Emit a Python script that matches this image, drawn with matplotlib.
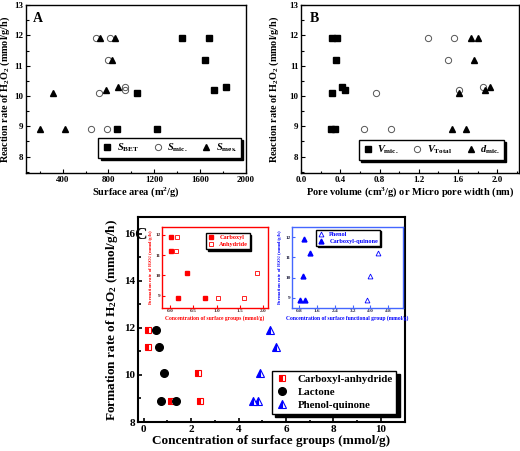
import matplotlib
matplotlib.use('Agg')
import matplotlib.pyplot as plt
from matplotlib.ticker import MultipleLocator

plt.rcParams['font.family'] = ['Liberation Serif', 'DejaVu Serif']
plt.rcParams['font.weight'] = 'bold'
plt.rcParams['axes.labelweight'] = 'bold'
plt.rcParams['mathtext.fontset'] = 'custom'
plt.rcParams['mathtext.rm'] = 'Liberation Serif:bold'
plt.rcParams['mathtext.it'] = 'Liberation Serif:bold:italic'
plt.rcParams['mathtext.bf'] = 'Liberation Serif:bold'
plt.rcParams['xtick.direction'] = 'in'
plt.rcParams['ytick.direction'] = 'in'

# panel A : surface areas (m2/g) vs reaction rate
s_bet_x = [870, 1220, 1045, 1720, 1830, 1645, 1440, 1680]
s_bet_y = [8.9, 8.9, 10.1, 10.2, 10.3, 11.2, 11.9, 11.9]
s_mic_x = [645, 790, 715, 945, 945, 795, 695, 810]
s_mic_y = [8.9, 8.9, 10.1, 10.2, 10.3, 11.2, 11.9, 11.9]
s_mes_x = [205, 420, 315, 775, 885, 835, 730, 855]
s_mes_y = [8.9, 8.9, 10.1, 10.2, 10.3, 11.2, 11.9, 11.9]

# panel B : pore volume / pore width vs reaction rate
v_mic_x = [0.30, 0.35, 0.315, 0.444, 0.417, 0.36, 0.315, 0.366]
v_mic_y = [8.9, 8.9, 10.1, 10.2, 10.3, 11.2, 11.9, 11.9]
v_tot_x = [0.637, 0.915, 0.763, 1.614, 1.858, 1.50, 1.29, 1.556]
v_tot_y = [8.9, 8.9, 10.1, 10.2, 10.3, 11.2, 11.9, 11.9]
d_mic_x = [1.536, 1.68, 1.61, 1.878, 1.925, 1.766, 1.73, 1.807]
d_mic_y = [8.9, 8.9, 10.1, 10.2, 10.3, 11.2, 11.9, 11.9]

# panel C : surface groups vs formation rate
carb_anh_x = [0.17, 0.17, 2.29, 1.17, 2.39]
carb_anh_y = [11.9, 11.2, 10.1, 8.9, 8.9]
lactone_x = [0.53, 0.65, 0.86, 0.72, 1.34]
lactone_y = [11.9, 11.2, 10.1, 8.9, 8.9]
phen_quin_x = [5.32, 5.57, 4.89, 4.61, 4.82]
phen_quin_y = [11.9, 11.2, 10.1, 8.9, 8.9]

# insets
carboxyl_x = [0.01, 0.01, 0.36, 0.16, 0.74]
carboxyl_y = [11.9, 11.2, 10.1, 8.9, 8.9]
anhydride_x = [0.14, 0.13, 1.88, 1.03, 1.60]
anhydride_y = [11.9, 11.2, 10.1, 8.9, 8.9]
phenol_x = [4.34, 4.34, 3.97, 3.85]
phenol_y = [11.9, 11.2, 10.1, 8.9]
carb_quin_x = [1.02, 1.29, 0.96, 0.84, 1.07]
carb_quin_y = [11.9, 11.2, 10.1, 8.9, 8.9]

rate_label = 'Reaction rate of H$_2$O$_2$ (mmol/g/h)'
form_label = 'Formation rate of H$_2$O$_2$ (mmol/g/h)'
shadow = {'ox': 1.6, 'oy': -1.6, 'color': 'black', 'alpha': 1}


def style_axes(ax, lw=1.0, size=6.5, color='black', tcolor='black'):
    for s in ax.spines.values():
        s.set_linewidth(lw)
        s.set_color(color)
    ax.tick_params(which='major', length=3, width=lw * 0.8, labelsize=size, pad=2,
                   color=color, labelcolor=tcolor)
    ax.tick_params(which='minor', length=1.8, width=lw * 0.8, color=color)


fig = plt.figure(figsize=(5.2, 4.51), dpi=100)

# ---- A
axA = fig.add_axes([0.05, 0.616, 0.423, 0.3725])
axA.plot(s_bet_x, s_bet_y, 's', color='black', ms=3.8, label=r'$\mathit{S}_{\mathrm{BET}}$')
axA.plot(s_mic_x, s_mic_y, 'o', mfc='none', mec='#555555', mew=0.7, ms=4.5,
         label=r'$\mathit{S}_{\mathrm{mic.}}$')
axA.plot(s_mes_x, s_mes_y, '^', color='black', ms=4.5, label=r'$\mathit{S}_{\mathrm{mes.}}$')
axA.set_xlim(80, 2000)
axA.set_ylim(7.45, 13)
axA.xaxis.set_major_locator(MultipleLocator(400))
axA.xaxis.set_minor_locator(MultipleLocator(200))
axA.yaxis.set_major_locator(MultipleLocator(1))
axA.yaxis.set_minor_locator(MultipleLocator(0.5))
style_axes(axA)
axA.set_xlabel('Surface area (m$^2$/g)', fontsize=7.5, labelpad=1)
axA.set_ylabel(rate_label, fontsize=7.3)
axA.yaxis.set_label_coords(-0.062, 0.5)
axA.text(0.03, 0.96, 'A', transform=axA.transAxes, fontsize=10, fontweight='bold', va='top')
axA.legend(ncol=3, loc='lower right', bbox_to_anchor=(1.0, 0.06), fontsize=7.5,
           handlelength=1, handletextpad=0.4, columnspacing=1.3, borderpad=0.35,
           fancybox=False, edgecolor='black', framealpha=1, shadow=shadow)

# ---- B
axB = fig.add_axes([0.579, 0.616, 0.419, 0.3725])
axB.plot(v_mic_x, v_mic_y, 's', color='black', ms=3.8, label=r'$\mathit{V}_{\mathrm{mic.}}$')
axB.plot(v_tot_x, v_tot_y, 'o', mfc='none', mec='#555555', mew=0.7, ms=4.5,
         label=r'$\mathit{V}_{\mathrm{Total}}$')
axB.plot(d_mic_x, d_mic_y, '^', color='black', ms=4.5, label=r'$\mathit{d}_{\mathrm{mic.}}$')
axB.set_xlim(0, 2.22)
axB.set_ylim(7.45, 13)
axB.xaxis.set_major_locator(MultipleLocator(0.4))
axB.xaxis.set_minor_locator(MultipleLocator(0.2))
axB.yaxis.set_major_locator(MultipleLocator(1))
axB.yaxis.set_minor_locator(MultipleLocator(0.5))
axB.xaxis.set_major_formatter(matplotlib.ticker.FormatStrFormatter('%.1f'))
style_axes(axB)
axB.set_xlabel('Pore volume (cm$^3$/g) or Micro pore width (nm)', fontsize=7.5, labelpad=1)
axB.set_ylabel(rate_label, fontsize=7.3)
axB.yaxis.set_label_coords(-0.09, 0.5)
axB.text(0.04, 0.96, 'B', transform=axB.transAxes, fontsize=10, fontweight='bold', va='top')
axB.legend(ncol=3, loc='lower right', bbox_to_anchor=(0.955, 0.05), fontsize=7.5,
           handlelength=1, handletextpad=0.4, columnspacing=1.3, borderpad=0.35,
           fancybox=False, edgecolor='black', framealpha=1, shadow=shadow)

# ---- C
axC = fig.add_axes([0.265, 0.0643, 0.513, 0.4545])
axC.plot(carb_anh_x, carb_anh_y, 's', ms=5, fillstyle='left', mfc='red', mfcalt='white',
         mec='red', mew=0.8, label='Carboxyl-anhydride')
axC.plot(lactone_x, lactone_y, 'o', color='black', ms=5.5, label='Lactone')
axC.plot(phen_quin_x, phen_quin_y, '^', ms=5.5, fillstyle='left', mfc='blue', mfcalt='white',
         mec='blue', mew=0.8, label='Phenol-quinone')
axC.set_xlim(-0.25, 11)
axC.set_ylim(8, 16.7)
axC.xaxis.set_major_locator(MultipleLocator(2))
axC.xaxis.set_minor_locator(MultipleLocator(1))
axC.yaxis.set_major_locator(MultipleLocator(2))
axC.yaxis.set_minor_locator(MultipleLocator(1))
style_axes(axC, lw=1.5, size=8)
axC.set_xlabel('Concentration of surface groups (mmol/g)', fontsize=9.5, labelpad=1)
axC.set_ylabel(form_label, fontsize=9.5, labelpad=3)
axC.text(-0.012, 0.95, 'C', transform=axC.transAxes, fontsize=12.5, fontweight='bold', va='top')
axC.legend(loc='lower right', bbox_to_anchor=(0.99, 0.015), fontsize=7.8,
           handlelength=1.2, handletextpad=0.8, borderpad=0.35, labelspacing=0.3,
           fancybox=False, edgecolor='black', framealpha=1,
           shadow={'ox': 2.2, 'oy': -2.2, 'color': 'black', 'alpha': 1})

# ---- red inset
axR = fig.add_axes([0.3115, 0.317, 0.204, 0.18])
axR.plot(carboxyl_x, carboxyl_y, 's', color='red', ms=3.3, label='Carboxyl')
axR.plot(anhydride_x, anhydride_y, 's', mfc='white', mec='red', mew=0.6, ms=3.3,
         label='Anhydride')
axR.set_xlim(-0.18, 2.11)
axR.set_ylim(8.4, 12.38)
axR.xaxis.set_major_locator(MultipleLocator(0.5))
axR.yaxis.set_major_locator(MultipleLocator(1))
style_axes(axR, lw=1.0, size=3.8, color='red', tcolor='#402020')
axR.tick_params(which='major', length=2, pad=1)
axR.set_xlabel('Concentration of surface groups (mmol/g)', fontsize=4, color='red', labelpad=1)
axR.set_ylabel(form_label, fontsize=3.5, color='red', labelpad=0.2)
legR = axR.legend(loc='upper right', bbox_to_anchor=(0.86, 0.96), fontsize=4.5,
                  handlelength=1, handletextpad=0.8, borderpad=0.3, labelspacing=0.25,
                  fancybox=False, edgecolor='black', framealpha=1,
                  shadow={'ox': 1, 'oy': -1, 'color': 'black', 'alpha': 1})
for t in legR.get_texts():
    t.set_color('red')

# ---- blue inset
axBl = fig.add_axes([0.5615, 0.317, 0.2135, 0.18])
axBl.plot(phenol_x, phenol_y, '^', mfc='white', mec='blue', mew=0.6, ms=3.5, label='Phenol')
axBl.plot(carb_quin_x, carb_quin_y, '^', color='blue', ms=3.5, label='Carboxyl-quinone')
axBl.set_xlim(0.47, 5.47)
axBl.set_ylim(8.5, 12.5)
axBl.xaxis.set_major_locator(MultipleLocator(0.8))
axBl.yaxis.set_major_locator(MultipleLocator(1))
axBl.xaxis.set_major_formatter(matplotlib.ticker.FormatStrFormatter('%.1f'))
style_axes(axBl, lw=1.0, size=3.8, color='#4466ff', tcolor='#202040')
axBl.tick_params(which='major', length=2, pad=1)
axBl.set_xlabel('Concentration of surface functional group (mmol/g)', fontsize=4,
                color='blue', labelpad=1)
axBl.set_ylabel(form_label, fontsize=3.5, color='blue', labelpad=1)
legBl = axBl.legend(loc='upper left', bbox_to_anchor=(0.19, 1.0), fontsize=4.5,
                    handlelength=1, handletextpad=0.8, borderpad=0.3, labelspacing=0.25,
                    fancybox=False, edgecolor='black', framealpha=1,
                    shadow={'ox': 1, 'oy': -1, 'color': 'black', 'alpha': 1})
for t in legBl.get_texts():
    t.set_color('blue')

fig.savefig('out.png', dpi=100)
